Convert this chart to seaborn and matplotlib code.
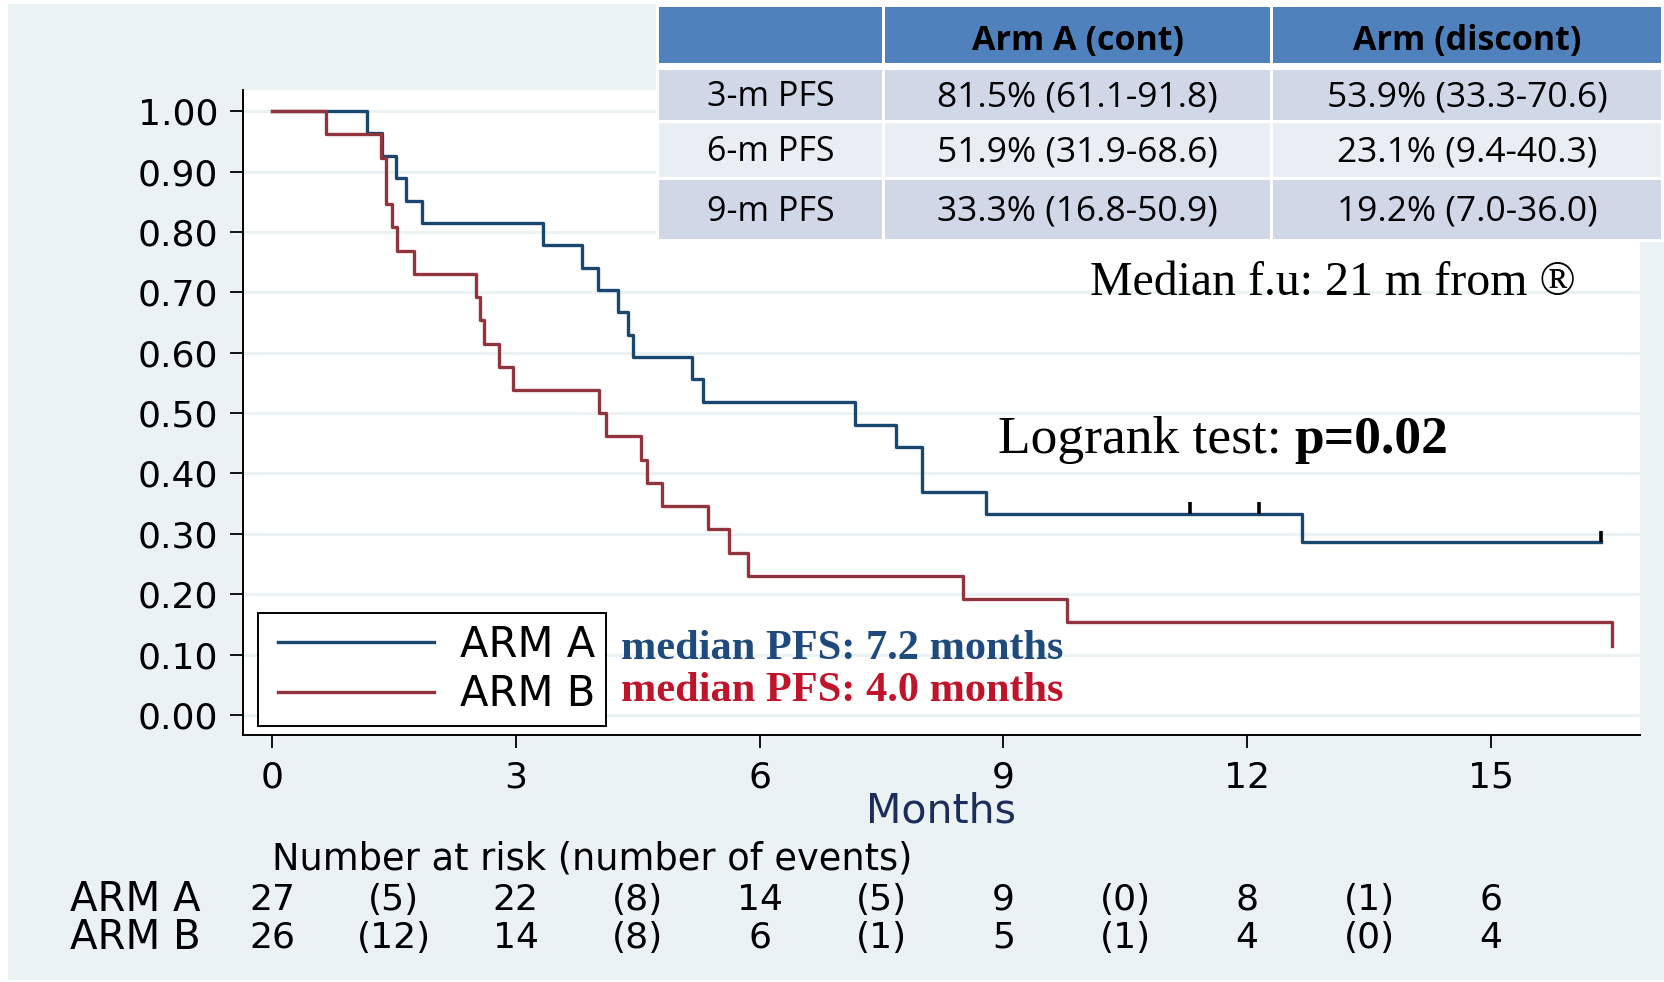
import numpy as np
import pandas as pd
import matplotlib
matplotlib.use("Agg")
import matplotlib.pyplot as plt
import matplotlib.transforms as mtransforms
from matplotlib.lines import Line2D
from matplotlib.legend_handler import HandlerLine2D
from matplotlib.patches import Rectangle
import seaborn as sns

# ---- Kaplan-Meier step data (months, PFS probability) ----
arm_a_months = [0, 1.17, 1.35, 1.53, 1.65, 1.85, 3.33, 3.81, 4.01, 4.26, 4.38,
                4.44, 5.17, 5.30, 7.17, 7.68, 8.00, 8.79, 12.67, 16.35]
arm_a_surv = [1.000, 0.963, 0.926, 0.889, 0.852, 0.815, 0.778, 0.741, 0.704,
              0.667, 0.630, 0.593, 0.556, 0.519, 0.481, 0.444, 0.370, 0.333,
              0.286, 0.286]
arm_b_months = [0, 0.66, 1.34, 1.40, 1.48, 1.54, 1.75, 2.51, 2.56, 2.61, 2.79,
                2.97, 4.02, 4.11, 4.54, 4.61, 4.80, 5.36, 5.62, 5.86, 8.50,
                9.78, 16.49]
arm_b_surv = [1.000, 0.962, 0.923, 0.846, 0.808, 0.769, 0.731, 0.692, 0.654,
              0.615, 0.577, 0.538, 0.500, 0.462, 0.423, 0.385, 0.346, 0.308,
              0.269, 0.231, 0.192, 0.154, 0.115]

# censored observations in arm A
arm_a_cens_months = [11.30, 12.14, 16.35]
arm_a_cens_surv = [0.333, 0.333, 0.286]

# ---- number at risk table ----
risk_months = [0, 3, 6, 9, 12, 15]
arm_a_at_risk = [27, 22, 14, 9, 8, 6]
arm_a_events = [5, 8, 5, 0, 1]
arm_b_at_risk = [26, 14, 6, 5, 4, 4]
arm_b_events = [12, 8, 1, 1, 0]

# ---- PFS landmark table ----
table_header = ["", "Arm A (cont)", "Arm (discont)"]
table_rows = ["3-m PFS", "6-m PFS", "9-m PFS"]
arm_a_pfs = ["81.5% (61.1-91.8)", "51.9% (31.9-68.6)", "33.3% (16.8-50.9)"]
arm_b_pfs = ["53.9% (33.3-70.6)", "23.1% (9.4-40.3)", "19.2% (7.0-36.0)"]

arm_labels = ["ARM A", "ARM B"]
median_text = ["median PFS: 7.2 months", "median PFS: 4.0 months"]

# ---- styling ----
BG = "#eaf2f3"
NAVY = "#1a476f"
MAROON = "#90353b"
W, H = 1664, 982

plt.rcParams["font.family"] = ["DejaVu Sans"]

fig = plt.figure(figsize=(W / 100, H / 100), dpi=100, facecolor="white")

# background panel
bg = fig.add_axes([0, 0, 1, 1], zorder=0)
bg.set_xlim(0, W)
bg.set_ylim(H, 0)
bg.axis("off")
bg.add_patch(Rectangle((8, 4), W - 8, H - 6, facecolor=BG, edgecolor="none"))

# main survival axes
ax = fig.add_axes([243 / W, 1 - 735 / H, (1640 - 243) / W, (735 - 90) / H],
                  zorder=1)
ax.set_facecolor("white")

df = pd.concat([
    pd.DataFrame({"months": arm_a_months, "surv": arm_a_surv, "arm": "ARM A"}),
    pd.DataFrame({"months": arm_b_months, "surv": arm_b_surv, "arm": "ARM B"}),
], ignore_index=True)

palette = {"ARM A": NAVY, "ARM B": MAROON}
sns.lineplot(data=df, x="months", y="surv", hue="arm", hue_order=arm_labels,
             palette=palette, estimator=None, sort=False,
             drawstyle="steps-post", linewidth=2.4, legend=False, ax=ax)

# censoring ticks
ax.vlines(arm_a_cens_months, arm_a_cens_surv,
          np.array(arm_a_cens_surv) + 0.019, color="black", lw=2.6, zorder=5)

ax.set_xlim(-0.357, 16.833)
ax.set_ylim(-0.033, 1.035)
ax.set_xticks(risk_months)
ax.set_xticklabels([str(m) for m in risk_months])
yt = np.round(np.arange(0, 1.01, 0.1), 2)
ax.set_yticks(yt)
ax.set_yticklabels([f"{v:.2f}" for v in yt])
ax.yaxis.grid(True, color=BG, lw=2.2)
ax.xaxis.grid(False)
ax.set_axisbelow(True)
for s in ["top", "right"]:
    ax.spines[s].set_visible(False)
for s in ["left", "bottom"]:
    ax.spines[s].set_color("black")
    ax.spines[s].set_linewidth(1.4)
ax.tick_params(axis="both", length=9.4, width=1.3, color="black",
               labelsize=26, labelcolor="black")
ax.tick_params(axis="x", pad=9)
ax.tick_params(axis="y", pad=8.5)
ax.set_xlabel("Months", fontsize=29.5, color="#1c2c5b", labelpad=-2)
ax.set_ylabel("")

# legend
handles = [Line2D([], [], color=NAVY, lw=2.4), Line2D([], [], color=MAROON, lw=2.4)]
pad_handler = HandlerLine2D(xpad=0.22)
leg = ax.legend(handles, arm_labels, loc="upper left",
                bbox_to_anchor=(258 / W, 1 - 613 / H),
                bbox_transform=fig.transFigure, fontsize=30, frameon=True,
                fancybox=False, edgecolor="black", framealpha=1,
                handlelength=3.96, handletextpad=0.62, borderpad=0.26,
                labelspacing=0.18, borderaxespad=0,
                handler_map={h: pad_handler for h in handles})
leg.get_frame().set_linewidth(1.4)

# overlay in pixel coordinates for table and annotations
ov = fig.add_axes([0, 0, 1, 1], zorder=3)
ov.set_xlim(0, W)
ov.set_ylim(H, 0)
ov.axis("off")

# median PFS annotations
ov.text(621, 659, median_text[0], family="Liberation Serif", weight="bold",
        fontsize=30.5, color="#1f4a7d", va="baseline", ha="left")
ov.text(621, 701, median_text[1], family="Liberation Serif", weight="bold",
        fontsize=30.5, color="#c0142a", va="baseline", ha="left")

ov.text(1090, 295, "Median f.u: 21 m from \u00ae", family="Liberation Serif",
        fontsize=34.5, color="black", va="baseline", ha="left")
t1 = ov.text(998, 453, "Logrank test:", family="Liberation Serif",
             fontsize=38.5, color="black", va="baseline", ha="left")
ov.annotate("p=0.02", xy=(1, 0), xycoords=t1, xytext=(9, 0),
            textcoords="offset points", family="Liberation Serif",
            weight="bold", fontsize=38.5, color="black", va="bottom", ha="left")

# PFS table
col_edges = [(659, 882), (885, 1270), (1273, 1661)]
row_edges = [(7, 63), (70, 120), (123, 177), (180, 239)]
row_colors = ["#4f81bd", "#d0d8e8", "#e9edf4", "#d0d8e8"]
ov.add_patch(Rectangle((656, 4), 1664 - 656, 238, facecolor="white",
                       edgecolor="none"))
cells = [table_header] + [[r, a, b] for r, a, b in zip(table_rows, arm_a_pfs, arm_b_pfs)]
for ri, (y0, y1) in enumerate(row_edges):
    for ci, (x0, x1) in enumerate(col_edges):
        ov.add_patch(Rectangle((x0, y0), x1 - x0, y1 - y0,
                               facecolor=row_colors[ri], edgecolor="none"))
        txt = cells[ri][ci]
        if txt:
            dy = 6 if ri == 0 else 2
            ov.text((x0 + x1) / 2, (y0 + y1) / 2 + dy, txt, family="Open Sans",
                    fontsize=24.5 if (ri == 0 or ci == 0) else 25.5,
                    weight="bold" if ri == 0 else "normal",
                    color="black", ha="center", va="center")

# number at risk
blend = mtransforms.blended_transform_factory(ax.transData, ov.transData)
ov.text(0, 859, "Number at risk (number of events)", transform=blend,
        fontsize=26.5, ha="left", va="center")
for y, lab, risk, ev in [(900, arm_labels[0], arm_a_at_risk, arm_a_events),
                         (938, arm_labels[1], arm_b_at_risk, arm_b_events)]:
    ov.text(70, y, lab, fontsize=29, ha="left", va="center")
    for m, n in zip(risk_months, risk):
        ov.text(m, y, str(n), transform=blend, fontsize=26, ha="center", va="center")
    for i, e in enumerate(ev):
        mid = (risk_months[i] + risk_months[i + 1]) / 2
        ov.text(mid, y, f"({e})", transform=blend, fontsize=26, ha="center", va="center")

fig.savefig("out.png", dpi=100, facecolor="white")
